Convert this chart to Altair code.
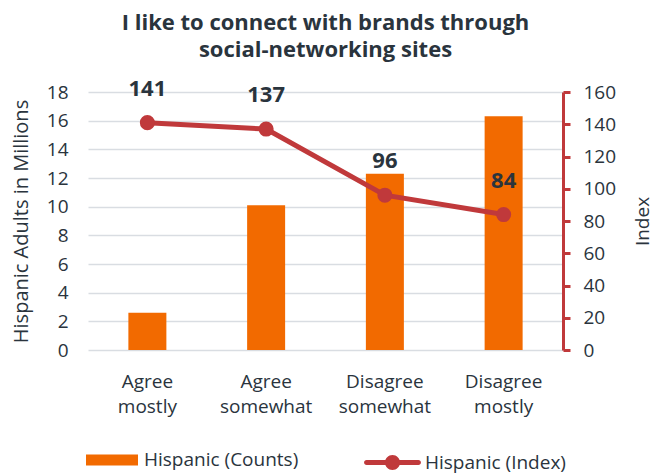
import altair as alt
import pandas as pd

categories = ["Agree mostly", "Agree somewhat", "Disagree somewhat", "Disagree mostly"]
counts = [2.6, 10.1, 12.3, 16.3]
index_vals = [141, 137, 96, 84]
left_ticks = [0, 2, 4, 6, 8, 10, 12, 14, 16, 18]
right_ticks = [0, 20, 40, 60, 80, 100, 120, 140, 160]
title_lines = ["I like to connect with brands through", "social-networking sites"]

df = pd.DataFrame({"category": categories, "counts": counts, "index": index_vals})

FONT = "Open Sans"
TXT = "#2a343d"
ORANGE = "#f26a00"
RED = "#c0393b"
GRID = "#d9dde2"

rect_path = "M-1,-0.21H1V0.21H-1Z"
line_path = ("M-0.91,-0.088H0.91A0.088,0.088 0 0,1 0.91,0.088H-0.91A0.088,0.088 0 0,1 -0.91,-0.088Z "
             "M0.263,0A0.263,0.263 0 1,1 -0.263,0A0.263,0.263 0 1,1 0.263,0Z")

x_enc = alt.X(
    "category:N",
    sort=categories,
    scale=alt.Scale(paddingInner=0, paddingOuter=0),
    axis=alt.Axis(
        title=None, labelAngle=0, ticks=False, domain=False,
        labelExpr="split(datum.label, ' ')", labelFontSize=19, labelLineHeight=25,
        labelColor=TXT, labelFont=FONT, labelPadding=22,
    ),
)

bars = alt.Chart(df).transform_calculate(series="'Hispanic (Counts)'").mark_bar(size=38, color=ORANGE).encode(
    x=x_enc,
    y=alt.Y(
        "counts:Q",
        scale=alt.Scale(domain=[0, 18], nice=False),
        axis=alt.Axis(
            values=left_ticks, title="Hispanic Adults in Millions", titleFontSize=20,
            titleFontWeight="normal", titleColor=TXT, titleFont=FONT, titlePadding=15,
            labelFontSize=19, labelColor=TXT, labelFont=FONT, domain=False, ticks=False,
            tickSize=0, labelPadding=20, grid=True, gridColor=GRID, gridWidth=1.5,
            labelOverlap=False,
        ),
    ),
    fill=alt.Fill(
        "series:N",
        scale=alt.Scale(domain=["Hispanic (Counts)"], range=[ORANGE]),
        legend=alt.Legend(
            title=None, orient="none", legendX=-2, legendY=342, symbolType=rect_path,
            symbolSize=2704, symbolStrokeWidth=0, labelFontSize=19, labelColor=TXT,
            labelFont=FONT, labelOffset=6, symbolOpacity=1,
        ),
    ),
)

y_idx = alt.Y(
    "index:Q",
    scale=alt.Scale(domain=[0, 160], nice=False),
    axis=alt.Axis(
        orient="right", values=right_ticks, title="Index", titleAngle=270,
        titleBaseline="top", titleFontSize=19, titleFontWeight="normal",
        titleColor=TXT, titleFont=FONT, titlePadding=18, labelFontSize=19,
        labelColor=TXT, labelFont=FONT, domainColor=RED, domainWidth=3,
        tickColor=RED, tickWidth=3, tickSize=7, labelPadding=13, grid=False,
        labelOverlap=False,
    ),
)

line = alt.Chart(df).mark_line(color=RED, strokeWidth=5).encode(x=x_enc, y=y_idx)

points = alt.Chart(df).transform_calculate(series="'Hispanic (Index)'").mark_circle(size=227, opacity=1).encode(
    x=x_enc,
    y=y_idx,
    color=alt.Color(
        "series:N",
        scale=alt.Scale(domain=["Hispanic (Index)"], range=[RED]),
        legend=alt.Legend(
            title=None, orient="none", legendX=276, legendY=342, symbolType=line_path,
            symbolSize=3249, symbolStrokeWidth=0, labelFontSize=19, labelColor=TXT,
            labelFont=FONT, labelOffset=4, symbolOpacity=1,
        ),
    ),
)

labels = alt.Chart(df).mark_text(
    dy=-34, fontSize=22, fontWeight="bold", color=TXT, font=FONT
).encode(x=x_enc, y=y_idx, text=alt.Text("index:Q"))

right = alt.layer(line, points, labels)

chart = alt.layer(bars, right).resolve_scale(y="independent").properties(
    width=475,
    height=258,
    padding={"left": 3, "top": 3, "right": 5, "bottom": 5},
    title=alt.TitleParams(
        title_lines, fontSize=22, fontWeight="bold", font=FONT, color=TXT,
        anchor="middle", lineHeight=27, offset=16,
    ),
).configure_view(stroke=None)

chart.save("out.html", embed_options={"renderer": "svg", "actions": False})
